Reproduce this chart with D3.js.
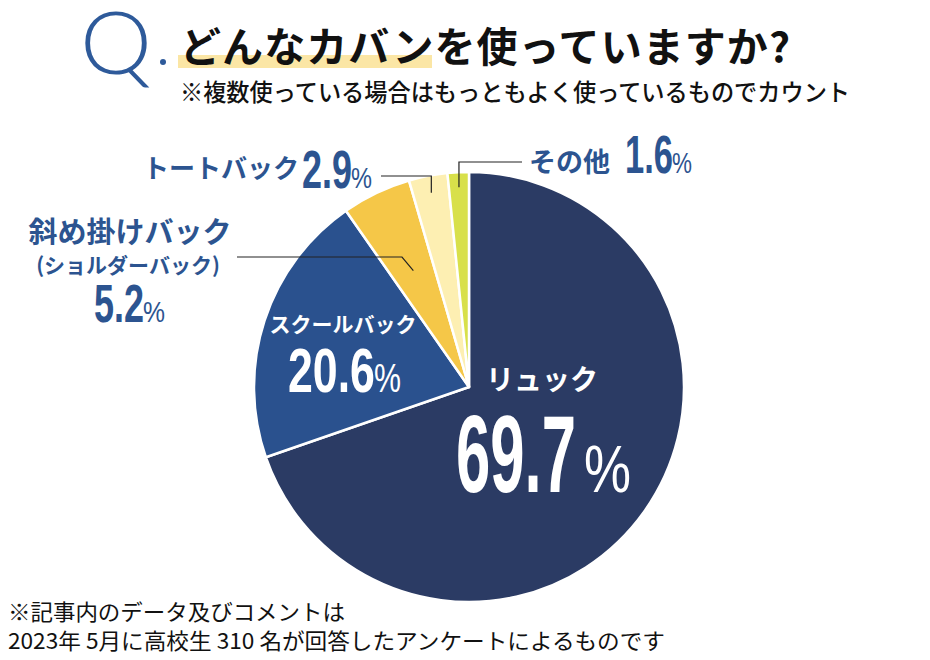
<!DOCTYPE html>
<html><head><meta charset="utf-8">
<script src="https://cdn.jsdelivr.net/npm/d3@7"></script>
<style>html,body{margin:0;padding:0;background:#fff}svg{display:block}</style>
</head><body>
<script>
const categories = ["リュック", "スクールバック", "斜め掛けバック", "トートバック", "その他"];
const values = [69.7, 20.6, 5.2, 2.9, 1.6];
const colors = ["#2b3b64", "#2a518e", "#f5c748", "#fdefb2", "#d8e04a"];
const titleText = "どんなカバンを使っていますか?";
const subtitleText = "※複数使っている場合はもっともよく使っているものでカウント";
const noteLines = ["※記事内のデータ及びコメントは", "2023年 5月に高校生 310 名が回答したアンケートによるものです"];

const W = 930, H = 660;
const svg = d3.select("body").append("svg").attr("width", W).attr("height", H);
const JP = "'Noto Sans CJK JP','Noto Sans',sans-serif";
const NUM = "'Liberation Sans','DejaVu Sans',sans-serif";
const blue = "#2c5490";

// Header
svg.append("text").attr("x", 80).attr("y", 74).attr("font-family", "Lato,'Noto Sans',sans-serif")
  .attr("font-weight", 300).attr("font-size", 86).attr("fill", "#2e5a9a")
  .attr("textLength", 72).attr("lengthAdjust", "spacingAndGlyphs").text("Q");
svg.append("circle").attr("cx", 163).attr("cy", 62).attr("r", 3).attr("fill", "#2e5a9a");
svg.append("rect").attr("x", 178).attr("y", 55).attr("width", 254).attr("height", 13).attr("fill", "#fbe6a5");
svg.append("text").attr("x", 180).attr("y", 62).attr("font-family", JP).attr("font-weight", 700)
  .attr("font-size", 41).attr("fill", "#111")
  .attr("textLength", 610).attr("lengthAdjust", "spacing").text(titleText);
svg.append("text").attr("x", 180).attr("y", 101).attr("font-family", JP).attr("font-weight", 500)
  .attr("font-size", 23.5).attr("fill", "#111")
  .attr("textLength", 670).attr("lengthAdjust", "spacingAndGlyphs").text(subtitleText);

// Pie
const cx = 469, cy = 387, R = 215;
const pie = d3.pie().sort(null).startAngle(0).endAngle(2 * Math.PI);
const arcs = pie(values);
const arc = d3.arc().innerRadius(0).outerRadius(R);
const g = svg.append("g").attr("transform", `translate(${cx},${cy})`);
g.selectAll("path").data(arcs).join("path")
  .attr("d", arc).attr("fill", (d, i) => colors[i])
  .attr("stroke", "#fff").attr("stroke-width", 2.5).attr("stroke-linejoin", "round");

function pt(d, rf) {
  const a = (d.startAngle + d.endAngle) / 2;
  return [cx + rf * R * Math.sin(a), cy - rf * R * Math.cos(a)];
}

// Condensed text: horizontally scaled to a target advance width
function squeezed(x, y, str, size, weight, w, color) {
  const gg = svg.append("g");
  const t = gg.append("text").attr("font-family", NUM).attr("font-weight", weight)
    .attr("font-size", size).attr("fill", color).text(str);
  const nat = t.node().getComputedTextLength() || w;
  gg.attr("transform", `translate(${x},${y}) scale(${w / nat},1)`);
}
function bigNum(x, y, num, size, w, px, pSize, pw, color) {
  squeezed(x, y, num, size, 700, w, color);
  squeezed(px, y, "%", pSize, 400, pw, color);
}

// Leader lines
const line = d3.line();
function leader(points) {
  svg.append("path").attr("d", line(points)).attr("fill", "none").attr("stroke", "#222").attr("stroke-width", 1.2);
}
const pTote = pt(arcs[3], 0.92), pOther = pt(arcs[4], 0.93), pSling = pt(arcs[2], 0.6);
leader([[381, 176], [pTote[0], 176], pTote]);
leader([[522, 162], [pOther[0], 162], pOther]);
leader([[237, 257], [402, 257], pSling]);

// Outside labels
svg.append("text").attr("x", 143).attr("y", 178).attr("font-family", JP).attr("font-weight", 700)
  .attr("font-size", 26).attr("fill", blue).text(categories[3]);
bigNum(302, 188, values[3].toFixed(1), 54, 50, 351, 29, 21, blue);

svg.append("text").attr("x", 529).attr("y", 172).attr("font-family", JP).attr("font-weight", 700)
  .attr("font-size", 27).attr("fill", blue).text(categories[4]);
bigNum(625, 173, values[4].toFixed(1), 54, 48, 672, 29, 20, blue);

svg.append("text").attr("x", 130).attr("y", 243).attr("text-anchor", "middle").attr("font-family", JP).attr("font-weight", 700)
  .attr("font-size", 29).attr("fill", blue).text(categories[2]);
svg.append("text").attr("x", 128).attr("y", 273).attr("text-anchor", "middle").attr("font-family", JP).attr("font-weight", 700)
  .attr("font-size", 21).attr("fill", blue).text("(ショルダーバック)");
bigNum(94, 322, values[2].toFixed(1), 54, 50, 143, 29, 22, blue);

// Inside labels
svg.append("text").attr("x", 343).attr("y", 332).attr("text-anchor", "middle").attr("font-family", JP).attr("font-weight", 700)
  .attr("font-size", 21).attr("fill", "#fff").text(categories[1]);
bigNum(288, 392, values[1].toFixed(1), 63, 87, 374, 41, 27, "#fff");

svg.append("text").attr("x", 542).attr("y", 390).attr("text-anchor", "middle").attr("font-family", JP).attr("font-weight", 700)
  .attr("font-size", 28).attr("fill", "#fff").text(categories[0]);
bigNum(456, 492, values[0].toFixed(1), 110, 120, 584, 67, 47, "#fff");

// Footnote
svg.selectAll("text.note").data(noteLines).join("text").attr("class", "note")
  .attr("x", 8).attr("y", (d, i) => 620 + i * 29)
  .attr("font-family", JP).attr("font-weight", 400).attr("font-size", 22).attr("fill", "#111")
  .attr("textLength", (d, i) => i === 0 ? 337 : 657).attr("lengthAdjust", "spacingAndGlyphs")
  .text(d => d);
</script>
</body></html>
